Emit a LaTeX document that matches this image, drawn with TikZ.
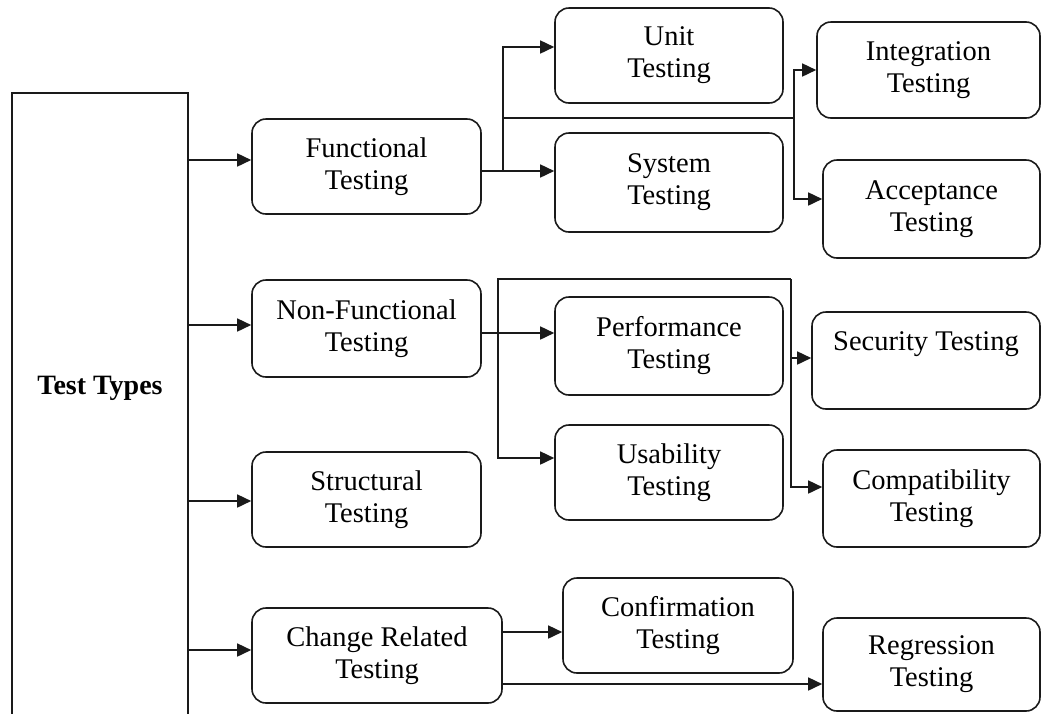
\documentclass[tikz,border=0pt]{standalone}
\usepackage{fontspec}
\setmainfont{Liberation Serif}
\usetikzlibrary{arrows.meta,calc}
\definecolor{ink}{HTML}{1A1A1A}
\begin{document}
\begin{tikzpicture}[x=1pt,y=-1pt,
  txt/.style={font=\fontsize{28.5}{32}\selectfont, text=black},
  box/.style={txt, draw=ink, line width=1.6pt, rounded corners=14pt,
              align=center, inner sep=0pt},
  frame/.style={draw=ink, line width=1.6pt, inner sep=0pt},
  wire/.style={draw=ink, line width=1.6pt},
  arr/.style={wire, -{Triangle[length=14pt,width=13pt]}}]
\clip (0,0) rectangle (1041,713);

% main category frame, open at the bottom edge
\node[frame, minimum width=176pt, minimum height=660pt] (tt) at (100,423) {};
\node[txt, font=\bfseries\fontsize{28}{32}\selectfont] (ttlabel) at (100,388) {Test Types};

% second level
\node[box, minimum width=229pt, minimum height=95pt] (fun)  at (366.5,166.5) {Functional\\Testing};
\node[box, minimum width=229pt, minimum height=97pt] (nfun) at (366.5,328.5) {Non-Functional\\Testing};
\node[box, minimum width=229pt, minimum height=95pt] (str)  at (366.5,499.5) {Structural\\Testing};
\node[box, minimum width=250pt, minimum height=95pt] (chg)  at (377,655.5) {Change Related\\Testing};

% third level
\node[box, minimum width=228pt, minimum height=95pt] (unit)   at (669,55.5)   {Unit\\Testing};
\node[box, minimum width=228pt, minimum height=99pt] (sys)    at (669,182.5)  {System\\Testing};
\node[box, minimum width=223pt, minimum height=96pt] (integ)  at (928.5,70)   {Integration\\Testing};
\node[box, minimum width=217pt, minimum height=98pt] (acc)    at (931.5,209)  {Acceptance\\Testing};
\node[box, minimum width=228pt, minimum height=98pt] (perf)   at (669,346)    {Performance\\Testing};
\node[box, minimum width=228pt, minimum height=95pt] (usab)   at (669,472.5)  {Usability\\Testing};
\node[box, minimum width=228pt, minimum height=97pt] (sec)    at (926,360.5)  {Security Testing\\\phantom{Testing}};
\node[box, minimum width=217pt, minimum height=97pt] (compat) at (931.5,498.5){Compatibility\\Testing};
\node[box, minimum width=230pt, minimum height=95pt] (conf)   at (678,625.5)  {Confirmation\\Testing};
\node[box, minimum width=217pt, minimum height=93pt] (reg)    at (931.5,664.5){Regression\\Testing};

% frame to second level
\draw[arr] ([yshift=6.5pt]fun.west -| tt.east)  -- ([yshift=6.5pt]fun.west);
\draw[arr] ([yshift=3.5pt]nfun.west -| tt.east) -- ([yshift=3.5pt]nfun.west);
\draw[arr] ([yshift=-1.5pt]str.west -| tt.east) -- ([yshift=-1.5pt]str.west);
\draw[arr] ([yshift=5.5pt]chg.west -| tt.east)  -- ([yshift=5.5pt]chg.west);

% functional branch
\coordinate (fj) at ($(fun.east)+(21,4.5)$);
\coordinate (fk) at ($(fj)+(0,-53)$);
\coordinate (fm) at ($(integ.west)+(-22,0)$);
\draw[arr] ([yshift=-4.5pt]fun.east) -- (sys.west |- fj);
\draw[arr] (fj) |- ([yshift=8.5pt]unit.west);
\draw[arr] (fk) -| (fm) -- (integ.west);
\draw[arr] (fm) |- ([yshift=10pt]acc.west);

% non-functional branch
\coordinate (nj) at ($(nfun.north east)+(16,0)$);
\coordinate (nm) at (nj -| {$(sec.west)+(-20,0)$});
\draw[arr] ([yshift=-4.5pt]nfun.east) -- ([yshift=-4.5pt]nfun.east -| perf.west);
\draw[arr] (nm) -- (nj) |- ([yshift=14.5pt]usab.west);
\draw[arr] (nm) |- ([yshift=11.5pt]compat.west);
\draw[arr] ([yshift=2.5pt]sec.west -| nm) -- ([yshift=2.5pt]sec.west);

% change related branch
\draw[arr] ([yshift=23.5pt]chg.east)  -- ([yshift=23.5pt]chg.east -| conf.west);
\draw[arr] ([yshift=-28.5pt]chg.east) -- ([yshift=-28.5pt]chg.east -| reg.west);
\end{tikzpicture}
\end{document}
